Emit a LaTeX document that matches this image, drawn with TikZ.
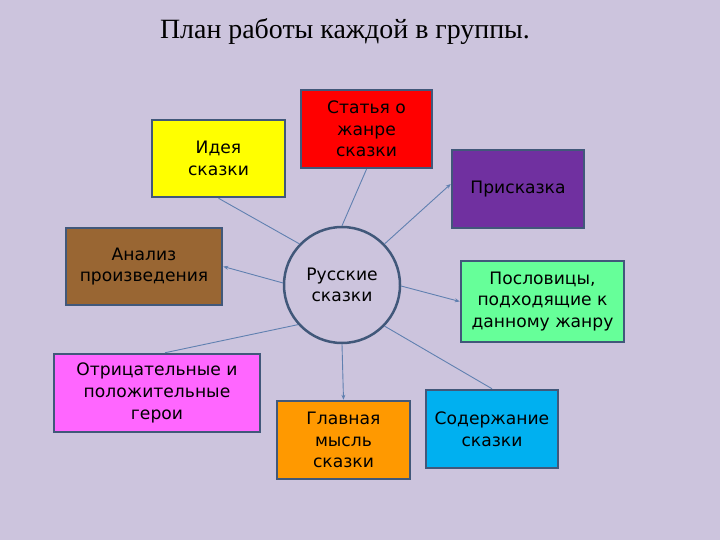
\documentclass[tikz,border=0pt]{standalone}
\usepackage{fontspec}
\setmainfont{Liberation Serif}
\newfontfamily\boxfont{DejaVu Sans}
\usetikzlibrary{arrows.meta}
\definecolor{bg}{RGB}{204,196,221}
\definecolor{frame}{RGB}{65,88,122}
\definecolor{conn}{RGB}{96,128,176}
\definecolor{cred}{RGB}{255,0,0}
\definecolor{cyellow}{RGB}{255,255,0}
\definecolor{cpurple}{RGB}{112,48,160}
\definecolor{cbrown}{RGB}{153,102,51}
\definecolor{cgreen}{RGB}{102,255,153}
\definecolor{cmagenta}{RGB}{255,102,255}
\definecolor{corange}{RGB}{255,153,0}
\definecolor{ccyan}{RGB}{0,176,240}
\begin{document}
\begin{tikzpicture}[x=1bp,y=-1bp,
  box/.style={draw=frame, line width=2.5bp, align=center, inner sep=2pt,
    font=\boxfont\fontsize{17.2}{21.8}\selectfont},
  conline/.style={draw=conn, line width=0.9bp},
  arr/.style={conline, -{Stealth[length=5bp,width=4bp]}}]
\fill[bg] (0,0) rectangle (720,540);
\useasboundingbox (0,0) rectangle (720,540);
\node[font=\fontsize{28}{32}\selectfont] (title) at (345,32) {План работы каждой в группы.};
\node[circle, draw=frame, line width=2.5bp, fill=bg, minimum size=116bp, inner sep=0pt,
  font=\boxfont\fontsize{17.2}{21.8}\selectfont, align=center] (c) at (342,285) {Русские\\сказки};
\node[box, fill=cred, minimum width=131bp, minimum height=78bp] (stat) at (366.5,129) {Статья о\\жанре\\сказки};
\node[box, fill=cyellow, minimum width=133bp, minimum height=77bp] (idea) at (218.5,158.5) {Идея\\сказки};
\node[box, fill=cpurple, minimum width=132bp, minimum height=78bp] (prisk) at (518,189) {Присказка};
\node[box, fill=cbrown, minimum width=156bp, minimum height=77bp] (anal) at (144,266.5) {Анализ\\произведения};
\node[box, fill=cgreen, minimum width=163bp, minimum height=81bp] (posl) at (542.5,301.5) {Пословицы,\\подходящие к\\данному жанру};
\node[box, fill=cmagenta, minimum width=206bp, minimum height=78bp] (otr) at (157,393) {Отрицательные и\\положительные\\герои};
\node[box, fill=corange, minimum width=133bp, minimum height=78bp] (glav) at (343.5,440) {Главная\\мысль\\сказки};
\node[box, fill=ccyan, minimum width=132bp, minimum height=78bp] (sod) at (492,429) {Содержание\\сказки};
\draw[conline] (c.90) -- (stat.south);
\draw[conline] (c.136) -- (idea.south);
\draw[arr] (c.44) -- ([yshift=5bp]prisk.west);
\draw[arr] (c.178) -- (anal.east);
\draw[arr] (c.-1) -- (posl.west);
\draw[conline] (c.222) -- ([xshift=8bp]otr.north);
\draw[arr] (c.270) -- (glav.north);
\draw[conline] (c.-44) -- (sod.north);
\end{tikzpicture}
\end{document}
